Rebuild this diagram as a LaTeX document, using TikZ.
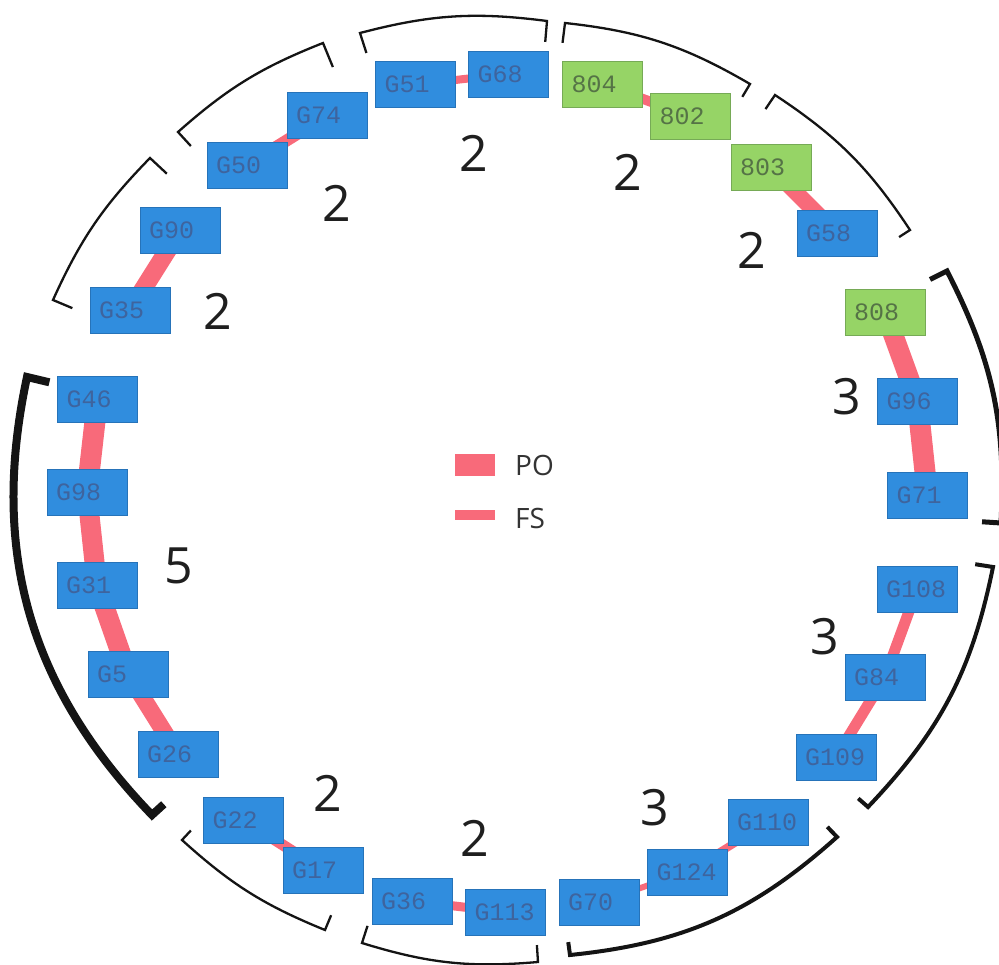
\documentclass[tikz,border=0pt]{standalone}
\usepackage{fontspec}
\setmainfont{Open Sans}
\newfontfamily\boxfont{Liberation Mono}
\usetikzlibrary{calc,backgrounds}
\definecolor{boxblue}{RGB}{48,141,222}
\definecolor{boxblueline}{RGB}{38,115,185}
\definecolor{boxgreen}{RGB}{150,212,102}
\definecolor{boxgreenline}{RGB}{118,170,86}
\definecolor{bluetext}{RGB}{62,100,158}
\definecolor{greentext}{RGB}{85,115,70}
\definecolor{pink}{RGB}{248,106,122}
\definecolor{brk}{RGB}{20,20,20}
\begin{document}
\begin{tikzpicture}[x=1pt,y=-1pt,
  bbox/.style={draw=boxblueline, line width=0.8pt, fill=boxblue, minimum height=46pt,
    inner xsep=9pt, inner ysep=0pt, text width=62pt, align=left,
    font=\boxfont\fontsize{25}{25}\selectfont, text=bluetext},
  gbox/.style={bbox, fill=boxgreen, draw=boxgreenline, text=greentext},
  link/.style={draw=pink, line cap=butt},
  num/.style={font=\fontsize{50}{50}\selectfont, text=black!88, inner sep=0pt},
  legtext/.style={font=\fontsize{28}{28}\selectfont, text=black!80, inner sep=0pt, anchor=west},
  bracket/.style={draw=brk, line width=2.3pt, line join=miter},
]
\useasboundingbox (0,0) rectangle (999,965);
\coordinate (C) at (507,491);

% nodes
\node[bbox] (G51) at (415.5,84.5) {G51};
\node[bbox] (G68) at (508.5,74) {G68};
\node[gbox] (804) at (602.5,84.5) {804};
\node[gbox] (802) at (690.5,116) {802};
\node[gbox] (803) at (771,167.5) {803};
\node[bbox] (G58) at (837,233.5) {G58};
\node[gbox] (808) at (885,312) {808};
\node[bbox] (G96) at (917.5,401.5) {G96};
\node[bbox] (G71) at (927.5,495.5) {G71};
\node[bbox] (G108) at (917,589.5) {G108};
\node[bbox] (G84) at (885,677) {G84};
\node[bbox] (G109) at (836,757) {G109};
\node[bbox] (G110) at (768,822.5) {G110};
\node[bbox] (G124) at (687.5,872) {G124};
\node[bbox] (G70) at (599,902) {G70};
\node[bbox] (G113) at (505.5,912) {G113};
\node[bbox] (G36) at (412,901) {G36};
\node[bbox] (G17) at (323,870.5) {G17};
\node[bbox] (G22) at (243.5,820) {G22};
\node[bbox] (G26) at (178,754) {G26};
\node[bbox] (G5) at (128,674) {G5};
\node[bbox] (G31) at (97,585.5) {G31};
\node[bbox] (G98) at (87,492) {G98};
\node[bbox] (G46) at (97.5,399) {G46};
\node[bbox] (G35) at (130,310) {G35};
\node[bbox] (G90) at (180,230.5) {G90};
\node[bbox] (G50) at (247,165) {G50};
\node[bbox] (G74) at (327,115.5) {G74};

% connectors
\begin{pgfonlayer}{background}
\draw[link, line width=8pt] (G51.center) -- (G68.center);
\draw[link, line width=10pt] (804.center) -- (802.center);
\draw[link, line width=16pt] (803.center) -- (G58.center);
\draw[link, line width=20pt] (808.center) -- (G96.center);
\draw[link, line width=21pt] (G96.center) -- (G71.center);
\draw[link, line width=11pt] (G108.center) -- (G84.center);
\draw[link, line width=11pt] (G84.center) -- (G109.center);
\draw[link, line width=8pt] (G110.center) -- (G124.center);
\draw[link, line width=6pt] (G124.center) -- (G70.center);
\draw[link, line width=9pt] (G36.center) -- (G113.center);
\draw[link, line width=11pt] (G22.center) -- (G17.center);
\draw[link, line width=17pt] (G5.center) -- (G26.center);
\draw[link, line width=20pt] (G31.center) -- (G5.center);
\draw[link, line width=20pt] (G98.center) -- (G31.center);
\draw[link, line width=21pt] (G46.center) -- (G98.center);
\draw[link, line width=18pt] (G90.center) -- (G35.center);
\draw[link, line width=12pt] (G74.center) -- (G50.center);
\end{pgfonlayer}

% group counts
\node[num] (nA) at (474,153) {2};
\node[num] (nB) at (628,172) {2};
\node[num] (nC) at (752,250) {2};
\node[num] (nD) at (337,203) {2};
\node[num] (nE) at (218,311) {2};
\node[num] (nG) at (847,397) {3};
\node[num] (nF) at (179,566) {5};
\node[num] (nH) at (825,637) {3};
\node[num] (nI) at (655,808) {3};
\node[num] (nK) at (328,793) {2};
\node[num] (nJ) at (475,838) {2};

% legend
\node[fill=pink, minimum width=40pt, minimum height=22pt, inner sep=0pt] (legPO) at (475,465) {};
\node[legtext] (txtPO) at (515,465) {PO};
\node[fill=pink, minimum width=40pt, minimum height=10pt, inner sep=0pt] (legFS) at (475,515) {};
\node[legtext] (txtFS) at (515,518) {FS};

% brackets
\coordinate (A1) at (360,33);   \coordinate (A2) at (547,21);
\coordinate (B1) at (565,23);   \coordinate (B2) at (750,84);
\coordinate (C1) at (775,95);   \coordinate (C2) at (910,230);
\coordinate (G1) at (947,271);  \coordinate (G2) at (1001,523);
\coordinate (H1) at (993,567);  \coordinate (H2) at (868,807);
\coordinate (I1) at (837,837);  \coordinate (I2) at (570,955);
\coordinate (J1) at (538,962);  \coordinate (J2) at (362,943);
\coordinate (K1) at (325,930);  \coordinate (K2) at (182,840);
\coordinate (F1) at (152,815);  \coordinate (F2) at (27,377);
\coordinate (E1) at (53,300);   \coordinate (E2) at (150,158);
\coordinate (D1) at (178,132);  \coordinate (D2) at (323,43);

\draw[bracket] ($(A1)!21pt!(C)$) -- (A1) to[bend left=11] (A2) -- ($(A2)!21pt!(C)$);
\draw[bracket] ($(B1)!20pt!(C)$) -- (B1) to[bend left=12] (B2) -- ($(B2)!15pt!(C)$);
\draw[bracket] ($(C1)!17pt!(C)$) -- (C1) to[bend left=11.5] (C2) -- ($(C2)!13pt!(C)$);
\draw[bracket, line width=5pt] ($(G1)!19pt!(C)$) -- (G1) to[bend left=15] (G2) -- ($(G2)!19pt!(C)$);
\draw[bracket, line width=4pt] ($(H1)!18pt!(C)$) -- (H1) to[bend left=16] (H2) -- ($(H2)!13pt!(C)$);
\draw[bracket, line width=4pt] ($(I1)!14pt!(C)$) -- (I1) to[bend left=18] (I2) -- ($(I2)!13pt!(C)$);
\draw[bracket] ($(J1)!17pt!(C)$) -- (J1) to[bend left=11] (J2) -- ($(J2)!18pt!(C)$);
\draw[bracket] ($(K1)!16pt!(C)$) -- (K1) to[bend left=10] (K2) -- ($(K2)!13pt!(C)$);
\draw[bracket, line width=8pt] ($(F1)!16pt!(C)$) -- (F1) to[bend left=28] (F2) -- ($(F2)!23pt!(C)$);
\draw[bracket] ($(E1)!21pt!(C)$) -- (E1) to[bend left=10] (E2) -- ($(E2)!23pt!(C)$);
\draw[bracket] ($(D1)!19pt!(C)$) -- (D1) to[bend left=10] (D2) -- ($(D2)!26pt!(C)$);
\end{tikzpicture}
\end{document}
